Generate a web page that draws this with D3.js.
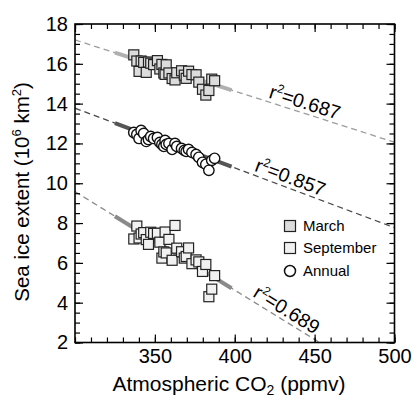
<!DOCTYPE html>
<html><head><meta charset="utf-8">
<script src="https://cdn.jsdelivr.net/npm/d3@7"></script>
<style>body{margin:0;background:#fff} svg{display:block;font-family:"Liberation Sans",Arial,Helvetica,sans-serif}</style>
</head><body><svg id="c" width="414" height="400"></svg>
<script>
// ---- data ----
const co2 = [336.8,338.7,340.1,341.4,343.0,344.6,346.0,347.4,349.2,351.6,353.1,354.4,355.6,356.4,357.1,358.8,360.8,362.6,363.7,366.7,368.4,369.6,371.1,373.2,375.8,377.5,379.8,381.9,383.8,385.6,387.4];
const march = [16.45,16.14,15.62,16.14,16.07,15.57,16.09,16.03,15.96,16.16,15.74,15.97,15.54,15.47,15.95,15.54,15.26,15.19,15.55,15.65,15.43,15.27,15.63,15.46,15.45,15.08,14.72,14.43,14.66,15.23,15.15];
const september = [7.20,7.85,7.25,7.45,7.52,7.17,6.93,7.54,7.48,7.49,7.04,6.24,6.55,7.55,6.50,7.18,6.13,7.88,6.74,6.56,6.24,6.32,6.75,5.96,6.15,6.05,5.57,5.92,4.30,4.68,5.36];
const annual = [12.55,12.45,12.25,12.65,12.50,12.10,12.20,12.35,12.25,12.30,12.05,11.95,11.85,12.15,11.95,12.00,11.70,12.00,11.85,11.75,11.65,11.60,11.70,11.55,11.45,11.30,11.05,10.95,10.65,11.15,11.25];
const fitX = [300, 500];
const marchFit = [17.2, 12.06];
const annualFit = [13.77, 7.77];
const septemberFit = [9.58, -0.32];
const fitRange = [325, 398];
const r2Values = ["0.687", "0.857", "0.689"];
const labelAtCO2 = [420, 411, 409.5];
const legendLabels = ["March", "September", "Annual"];
const xTicks = [350, 400, 450, 500];
const yTicks = [2, 4, 6, 8, 10, 12, 14, 16, 18];

// ---- chart ----
const svg = d3.select('#c');
const x = d3.scaleLinear().domain([300, 500]).range([75, 394.5]);
const y = d3.scaleLinear().domain([2, 18]).range([342.5, 24]);
const X0 = x.range()[0], X1 = x.range()[1], Y0 = y.range()[1], Y1 = y.range()[0];

svg.append('clipPath').attr('id', 'clip').append('rect')
  .attr('x', X0).attr('y', Y0).attr('width', X1 - X0).attr('height', Y1 - Y0);

const series = [
  {name: 'March', vals: march, fit: marchFit, r2: r2Values[0], at: labelAtCO2[0], dash: '#9c9c9c', thick: '#b0b0b0', fill: '#dcdcdc', shape: 'sq'},
  {name: 'Annual', vals: annual, fit: annualFit, r2: r2Values[1], at: labelAtCO2[1], dash: '#4a4a4a', thick: '#555', fill: '#fff', shape: 'ci'},
  {name: 'September', vals: september, fit: septemberFit, r2: r2Values[2], at: labelAtCO2[2], dash: '#8a8a8a', thick: '#8a8a8a', fill: '#f1f1f1', shape: 'sq'}
];

const lineFn = (s) => (c) => s.fit[0] + (s.fit[1] - s.fit[0]) * (c - fitX[0]) / (fitX[1] - fitX[0]);

const gl = svg.append('g').attr('clip-path', 'url(#clip)');
series.forEach(s => {
  const f = lineFn(s);
  gl.append('line')
    .attr('x1', x(fitX[0])).attr('y1', y(f(fitX[0])))
    .attr('x2', x(fitX[1])).attr('y2', y(f(fitX[1])))
    .attr('stroke', s.dash).attr('stroke-width', 1.3).attr('stroke-dasharray', '6,4');
  gl.append('line')
    .attr('x1', x(fitRange[0])).attr('y1', y(f(fitRange[0])))
    .attr('x2', x(fitRange[1])).attr('y2', y(f(fitRange[1])))
    .attr('stroke', s.thick).attr('stroke-width', 4);
});

// markers
[series[2], series[0], series[1]].forEach(s => {
  const g = svg.append('g');
  const pts = co2.map((c, i) => [c, s.vals[i]]);
  if (s.shape === 'sq') {
    g.selectAll('rect').data(pts).join('rect')
      .attr('x', d => x(d[0]) - 5).attr('y', d => y(d[1]) - 5)
      .attr('width', 10).attr('height', 10)
      .attr('fill', s.fill).attr('stroke', '#222').attr('stroke-width', 1.2);
  } else {
    g.selectAll('circle').data(pts).join('circle')
      .attr('cx', d => x(d[0])).attr('cy', d => y(d[1])).attr('r', 5.2)
      .attr('fill', s.fill).attr('stroke', '#111').attr('stroke-width', 1.4);
  }
});

// r2 labels
series.forEach(s => {
  const f = lineFn(s);
  const px = x(s.at), py = y(f(s.at));
  const ang = Math.atan2(y(f(s.at + 10)) - py, x(s.at + 10) - px) * 180 / Math.PI;
  const t = svg.append('text')
    .attr('transform', `translate(${px},${py}) rotate(${ang}) translate(0,-4)`)
    .attr('font-size', 19.5);
  t.append('tspan').text('r');
  t.append('tspan').attr('font-size', 12).attr('dy', -8).text('2');
  t.append('tspan').attr('dy', 8).text('=' + s.r2);
});

// axes
const minorX = d3.range(300, 501, 10);
const minorY = d3.range(2, 18.01, 0.5);
const styleAxis = g => { g.select('.domain').remove(); g.selectAll('line').attr('stroke', '#000').attr('stroke-width', 1.2); };

svg.append('g').attr('transform', `translate(0,${Y1})`)
  .call(d3.axisBottom(x).tickValues(minorX).tickSize(-5).tickFormat('')).call(styleAxis);
svg.append('g').attr('transform', `translate(0,${Y1})`)
  .call(d3.axisBottom(x).tickValues(xTicks).tickSize(-8).tickPadding(6).tickFormat(d3.format('d'))).call(styleAxis)
  .selectAll('text').attr('font-size', 20).attr('fill', '#000').attr('font-family', 'Liberation Sans, Arial, sans-serif');
svg.append('g').attr('transform', `translate(0,${Y0})`)
  .call(d3.axisTop(x).tickValues(minorX).tickSize(-5).tickFormat('')).call(styleAxis);
svg.append('g').attr('transform', `translate(0,${Y0})`)
  .call(d3.axisTop(x).tickValues([300].concat(xTicks)).tickSize(-8).tickFormat('')).call(styleAxis);

svg.append('g').attr('transform', `translate(${X0},0)`)
  .call(d3.axisLeft(y).tickValues(minorY).tickSize(-5).tickFormat('')).call(styleAxis);
svg.append('g').attr('transform', `translate(${X0},0)`)
  .call(d3.axisLeft(y).tickValues(yTicks).tickSize(-8).tickPadding(7).tickFormat(d3.format('d'))).call(styleAxis)
  .selectAll('text').attr('font-size', 20).attr('fill', '#000').attr('font-family', 'Liberation Sans, Arial, sans-serif');
svg.append('g').attr('transform', `translate(${X1},0)`)
  .call(d3.axisRight(y).tickValues(minorY).tickSize(-5).tickFormat('')).call(styleAxis);
svg.append('g').attr('transform', `translate(${X1},0)`)
  .call(d3.axisRight(y).tickValues(yTicks).tickSize(-8).tickFormat('')).call(styleAxis);

svg.append('rect').attr('x', X0).attr('y', Y0).attr('width', X1 - X0).attr('height', Y1 - Y0)
  .attr('fill', 'none').attr('stroke', '#000').attr('stroke-width', 1.6);

// legend
const lg = svg.append('g').attr('font-size', 15);
const legY = [226, 248, 271];
legendLabels.forEach((name, i) => {
  const s = series.find(d => d.name === name);
  if (s.shape === 'sq') {
    lg.append('rect').attr('x', 284.5).attr('y', legY[i] - 5.5).attr('width', 11).attr('height', 11)
      .attr('fill', s.fill).attr('stroke', '#222').attr('stroke-width', 1.2);
  } else {
    lg.append('circle').attr('cx', 290).attr('cy', legY[i]).attr('r', 5.5)
      .attr('fill', '#fff').attr('stroke', '#111').attr('stroke-width', 1.5);
  }
  lg.append('text').attr('x', 303).attr('y', legY[i]).attr('dy', '0.35em').text(name);
});

// axis titles
const xt = svg.append('text').attr('x', 229).attr('y', 391).attr('text-anchor', 'middle').attr('font-size', 21);
xt.append('tspan').text('Atmospheric CO');
xt.append('tspan').attr('font-size', 14).attr('dy', 4).text('2');
xt.append('tspan').attr('dy', -4).text(' (ppmv)');

const yt = svg.append('text').attr('transform', 'translate(29,192) rotate(-90)').attr('text-anchor', 'middle').attr('font-size', 20.5);
yt.append('tspan').text('Sea ice extent (10');
yt.append('tspan').attr('font-size', 13).attr('dy', -8).text('6');
yt.append('tspan').attr('dy', 8).text(' km');
yt.append('tspan').attr('font-size', 13).attr('dy', -8).text('2');
yt.append('tspan').attr('dy', 8).text(')');
</script></body></html>
